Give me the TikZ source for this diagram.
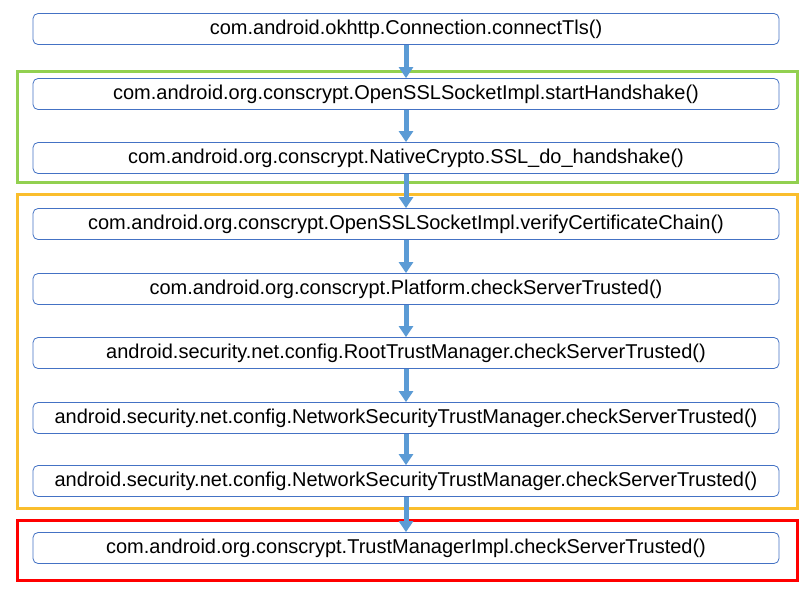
\documentclass[tikz,border=0pt]{standalone}
\usepackage{fontspec}
\setmainfont{Liberation Sans}
\usetikzlibrary{arrows.meta}
\definecolor{callblue}{RGB}{68,114,196}
\definecolor{arrowblue}{RGB}{91,155,213}
\definecolor{framegreen}{RGB}{146,208,80}
\definecolor{frameorange}{RGB}{250,190,45}
\definecolor{framered}{RGB}{255,0,0}

\begin{document}
\begin{tikzpicture}[x=1pt, y=-1pt,
        call/.style={draw=callblue, line width=0.8pt, rounded corners=5pt, fill=white,
            minimum width=746pt, minimum height=31pt, inner sep=0pt,
            font=\fontsize{20}{24}\selectfont},
        flow/.style={arrowblue, line width=5pt, -{Triangle[width=14pt, length=11pt]}},
        frame/.style={line width=3pt}]
        \useasboundingbox[fill=white] (0, 0) rectangle (809, 590);

        % okhttp entry
        \node[call] (c1) at (406, 29) {com.android.okhttp.Connection.connectTls()};

        % handshake (green)
        \draw[frame, framegreen] (17, 71) rectangle (797, 182);
        \node[call] (c2) at (406, 94) {com.android.org.conscrypt.OpenSSLSocketImpl.startHandshake()};
        \node[call] (c3) at (406, 158) {com.android.org.conscrypt.NativeCrypto.SSL\_do\_handshake()};

        % certificate checks (orange)
        \draw[frame, frameorange] (17, 194) rectangle (797, 508);
        \node[call] (c4) at (406, 224) {com.android.org.conscrypt.OpenSSLSocketImpl.verifyCertificateChain()};
        \node[call] (c5) at (406, 289) {com.android.org.conscrypt.Platform.checkServerTrusted()};
        \node[call] (c6) at (406, 353) {android.security.net.config.RootTrustManager.checkServerTrusted()};
        \node[call] (c7) at (406, 418) {android.security.net.config.NetworkSecurityTrustManager.checkServerTrusted()};
        \node[call] (c8) at (406, 481) {android.security.net.config.NetworkSecurityTrustManager.checkServerTrusted()};

        % trust manager (red)
        \draw[frame, framered] (17, 520) rectangle (797, 580);
        \node[call] (c9) at (406, 548) {com.android.org.conscrypt.TrustManagerImpl.checkServerTrusted()};

        \foreach \a/\b in {c1/c2, c2/c3, c3/c4, c4/c5, c5/c6, c6/c7, c7/c8, c8/c9}
            \draw[flow] (\a) -- (\b);
\end{tikzpicture}
\end{document}
